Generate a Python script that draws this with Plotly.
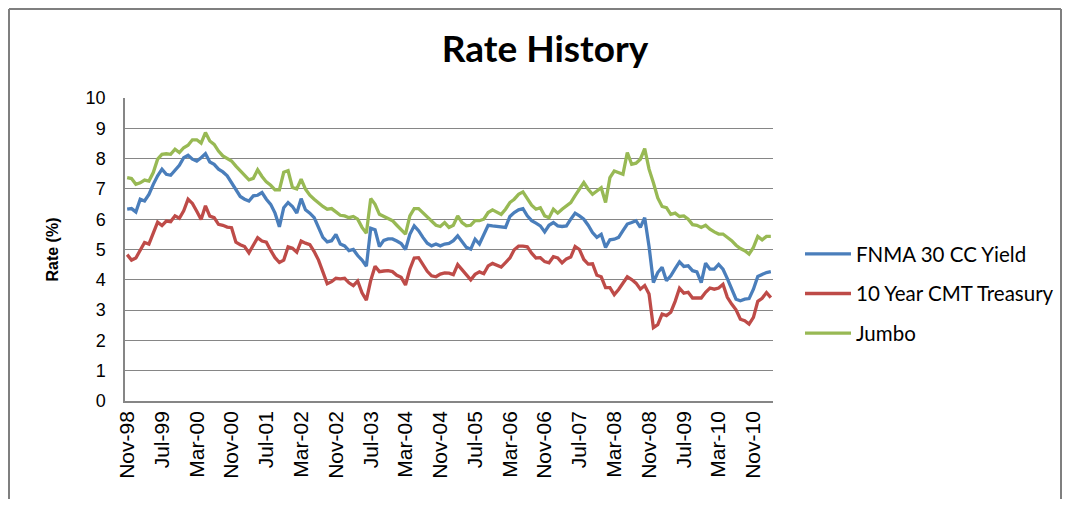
import pandas as pd
import plotly.graph_objects as go

# Categories: monthly, Nov-98 .. Mar-11
months = [d.strftime("%b-%y") for d in pd.period_range("1998-11", "2011-03", freq="M")]

fnma_30cc = [
    6.33, 6.35, 6.24, 6.66, 6.60, 6.82, 7.15, 7.43, 7.65, 7.48, 7.45, 7.60, 7.78, 8.03, 8.11, 7.98, 7.92, 8.03, 8.16, 7.89, 7.81, 7.65, 7.56, 7.43, 7.20,
    6.98, 6.75, 6.66, 6.60, 6.77, 6.79, 6.88, 6.66, 6.49, 6.20, 5.75, 6.38, 6.55, 6.42, 6.20, 6.68, 6.31, 6.20, 6.05, 5.73, 5.40, 5.25, 5.29, 5.50,
    5.18, 5.12, 4.96, 5.00, 4.80, 4.65, 4.45, 5.70, 5.65, 5.10, 5.30, 5.35, 5.35, 5.28, 5.20, 5.00, 5.50, 5.78, 5.62, 5.40, 5.21, 5.12, 5.18, 5.12, 5.18,
    5.20, 5.29, 5.45, 5.25, 5.07, 5.01, 5.34, 5.18, 5.50, 5.80, 5.78, 5.76, 5.76, 5.73, 6.09, 6.22, 6.31, 6.35, 6.11, 5.95, 5.87, 5.78, 5.58, 5.80, 5.89,
    5.78, 5.76, 5.78, 6.00, 6.20, 6.11, 6.00, 5.80, 5.56, 5.40, 5.50, 5.07, 5.32, 5.34, 5.40, 5.62, 5.84, 5.89, 5.95, 5.73, 6.05, 5.10, 3.91, 4.24, 4.41,
    3.97, 4.13, 4.37, 4.59, 4.44, 4.46, 4.30, 4.26, 3.91, 4.55, 4.35, 4.35, 4.51, 4.35, 4.04, 3.69, 3.36, 3.31, 3.36, 3.38, 3.69, 4.11, 4.19, 4.24, 4.27,
]

treasury_10y = [
    4.83, 4.65,
    4.72, 5.00, 5.23, 5.18, 5.54, 5.90, 5.79, 5.94, 5.92, 6.11, 6.03, 6.28,
    6.66, 6.52, 6.26, 5.99, 6.44, 6.10, 6.05, 5.83, 5.80, 5.74, 5.72, 5.24,
    5.16, 5.10, 4.89, 5.14, 5.39, 5.28, 5.24, 4.97, 4.73, 4.57, 4.65, 5.09,
    5.04, 4.91, 5.28, 5.21, 5.16, 4.93, 4.65, 4.26, 3.87, 3.94, 4.05, 4.03,
    4.05, 3.90, 3.81, 3.96, 3.57, 3.33, 3.98, 4.45, 4.27, 4.29, 4.30, 4.27,
    4.15, 4.08, 3.83, 4.35, 4.72, 4.73, 4.50, 4.28, 4.13, 4.10, 4.19, 4.23,
    4.22, 4.17, 4.50, 4.34, 4.14, 4.00, 4.18, 4.26, 4.20, 4.46, 4.54, 4.47,
    4.42, 4.57, 4.72, 4.99, 5.11, 5.11, 5.09, 4.88, 4.72, 4.73, 4.60, 4.56,
    4.76, 4.72, 4.56, 4.69, 4.75, 5.10, 5.00, 4.67, 4.52, 4.53, 4.15, 4.10,
    3.74, 3.74, 3.51, 3.68, 3.88, 4.10, 4.01, 3.89, 3.69, 3.81, 3.53, 2.42,
    2.52, 2.87, 2.82, 2.93, 3.29, 3.72, 3.56, 3.59, 3.40, 3.39, 3.40, 3.59,
    3.73, 3.69, 3.73, 3.85, 3.42, 3.20, 3.01, 2.70, 2.65, 2.54, 2.76, 3.29,
    3.39, 3.58, 3.41,
]

jumbo = [
    7.37, 7.34, 7.15, 7.20, 7.29, 7.26, 7.54, 7.98, 8.14, 8.16, 8.14, 8.31, 8.20, 8.36, 8.44, 8.62, 8.62, 8.51, 8.86, 8.58, 8.47, 8.25, 8.09, 8.00, 7.92,
    7.75, 7.60, 7.45, 7.30, 7.35, 7.63, 7.41, 7.23, 7.12, 6.97, 6.97, 7.55, 7.60, 7.05, 7.00, 7.32, 6.99, 6.79, 6.66, 6.53, 6.42, 6.33, 6.35, 6.24,
    6.13, 6.11, 6.05, 6.09, 6.00, 5.73, 5.54, 6.68, 6.49, 6.16, 6.09, 6.00, 5.95, 5.80, 5.67, 5.51, 6.11, 6.35, 6.35, 6.22, 6.09, 5.95, 5.80, 5.76, 5.89,
    5.73, 5.80, 6.11, 5.89, 5.78, 5.80, 5.95, 5.95, 6.00, 6.22, 6.31, 6.22, 6.16, 6.33, 6.55, 6.66, 6.82, 6.90, 6.66, 6.46, 6.33, 6.38, 6.11, 6.05, 6.33,
    6.20, 6.33, 6.44, 6.55, 6.78, 6.99, 7.21, 6.99, 6.82, 6.93, 7.04, 6.55, 7.37, 7.59, 7.54, 7.48, 8.20, 7.81, 7.85, 7.98, 8.33, 7.65, 7.20, 6.70, 6.42,
    6.38, 6.16, 6.20, 6.09, 6.11, 6.00, 5.82, 5.80, 5.73, 5.80, 5.67, 5.58, 5.51, 5.51, 5.40, 5.29, 5.14, 5.03, 4.96, 4.85, 5.07, 5.43, 5.32, 5.43, 5.43,
]

series_names = ["FNMA 30 CC Yield", "10 Year CMT Treasury", "Jumbo"]
series_colors = ["#4A7EBB", "#BE4B48", "#98B954"]
tick_labels = months[::8]
y_ticks = list(range(0, 11))

fig = go.Figure()
for name, vals, col in zip(series_names, [fnma_30cc, treasury_10y, jumbo], series_colors):
    fig.add_trace(go.Scatter(
        x=months, y=vals, mode="lines", name=name, legendgroup=name,
        line=dict(color=col, width=3.3),
    ))

# page has an 8px body margin on every side; work in window pixels and convert
OFF = 8
W, H = 1070 - 2 * OFF, 507 - 2 * OFF
L, T = 125 - OFF, 98 - OFF
R = W - (773 - OFF)
B = H - (401 - OFF)
pw, ph = W - L - R, H - T - B

def px_x(p):
    return (p - OFF - L) / pw

def px_y(p):
    return (H - B - (p - OFF)) / ph

def cx(p):
    return (p - OFF) / W

def cy(p):
    return 1 - (p - OFF) / H

fig.update_layout(
    width=W, height=H,
    margin=dict(l=L, r=R, t=T, b=B),
    paper_bgcolor="white", plot_bgcolor="white",
    title=dict(text="<b>Rate History</b>", x=cx(545), xref="container", xanchor="center",
               y=cy(49), yref="container", yanchor="middle",
               font=dict(family="Lato", size=37, color="black")),
    showlegend=True,
    legend=dict(x=cx(800), y=cy(234), xref="container", yref="container",
                xanchor="left", yanchor="top",
                font=dict(family="Lato", size=20.5, color="black"),
                itemwidth=46, tracegroupgap=10, traceorder="grouped",
                bgcolor="rgba(0,0,0,0)"),
    xaxis=dict(type="category", range=[-0.5, len(months) - 0.5],
               tickmode="array", tickvals=tick_labels, ticktext=tick_labels,
               tickangle=-90, tickfont=dict(family="Liberation Sans", size=21, color="black"),
               showgrid=False, showline=True, linecolor="#868686", linewidth=1.5,
               ticks="", zeroline=False),
    yaxis=dict(range=[0, 10], tickmode="array", tickvals=y_ticks,
               tickfont=dict(family="Liberation Sans", size=18, color="black"),
               showgrid=True, gridcolor="#868686", gridwidth=1,
               showline=True, linecolor="#868686", linewidth=1.5, ticks="",
               zeroline=False, ticklabelstandoff=14,
               title=dict(text="<b>Rate (%)</b>", font=dict(family="Liberation Sans", size=16, color="black"),
                          standoff=23)),
    shapes=[dict(type="line", xref="paper", yref="paper",
                 x0=px_x(OFF + 1), x1=px_x(1070 - OFF - 1), y0=px_y(OFF + 1), y1=px_y(OFF + 1),
                 line=dict(color="#7F7F7F", width=2)),
            dict(type="line", xref="paper", yref="paper",
                 x0=px_x(OFF + 1), x1=px_x(OFF + 1), y0=px_y(OFF + 1), y1=px_y(507),
                 line=dict(color="#7F7F7F", width=2)),
            dict(type="line", xref="paper", yref="paper",
                 x0=px_x(1070 - OFF - 1), x1=px_x(1070 - OFF - 1), y0=px_y(OFF + 1), y1=px_y(507),
                 line=dict(color="#7F7F7F", width=2))],
)

fig.write_html("out.html")
